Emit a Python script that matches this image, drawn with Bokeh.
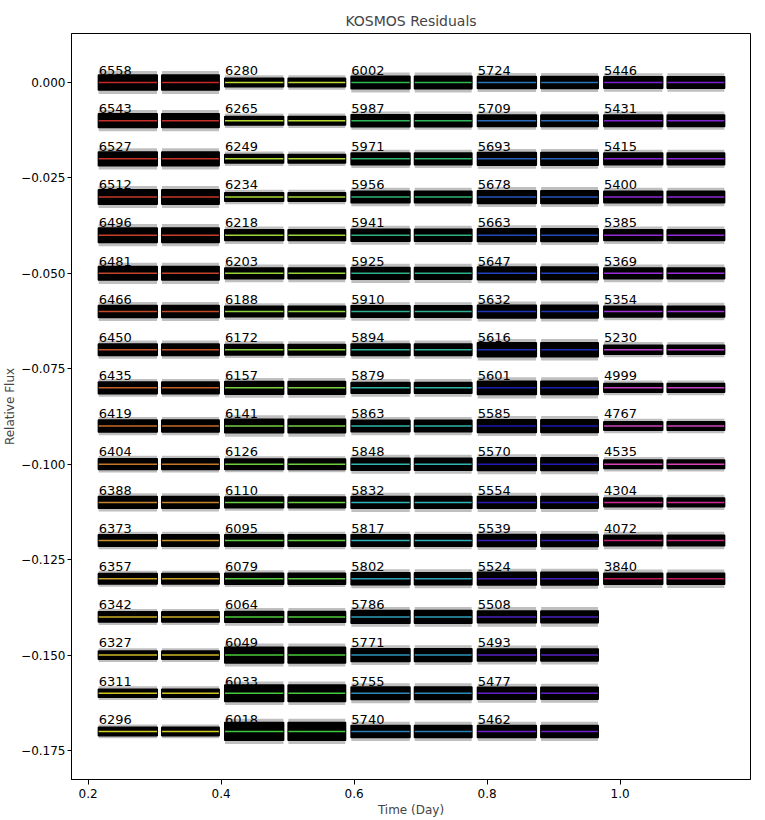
import numpy as np
from bokeh.plotting import figure
from bokeh.models import FixedTicker, CustomJSTickFormatter, PrintfTickFormatter, ColumnDataSource, Range1d
from bokeh.embed import file_html
from bokeh.resources import INLINE
from bokeh.core.properties import value

# ---------------- data ----------------
wavelengths = [
    6558, 6543, 6527, 6512, 6496, 6481, 6466, 6450, 6435, 6419, 6404, 6388, 6373, 6357, 6342, 6327, 6311, 6296,
    6280, 6265, 6249, 6234, 6218, 6203, 6188, 6172, 6157, 6141, 6126, 6110, 6095, 6079, 6064, 6049, 6033, 6018,
    6002, 5987, 5971, 5956, 5941, 5925, 5910, 5894, 5879, 5863, 5848, 5832, 5817, 5802, 5786, 5771, 5755, 5740,
    5724, 5709, 5693, 5678, 5663, 5647, 5632, 5616, 5601, 5585, 5570, 5554, 5539, 5524, 5508, 5493, 5477, 5462,
    5446, 5431, 5415, 5400, 5385, 5369, 5354, 5230, 4999, 4767, 4535, 4304, 4072, 3840,
]
# half-width of the dense body of each residual cloud (relative flux, x 1e-3)
scatter_1e3 = [
    1.9, 1.75, 1.75, 1.85, 1.85, 1.7, 1.5, 1.45, 1.45, 1.5, 1.35, 1.45, 1.45, 1.3, 1.3, 1.0, 1.0, 1.05,
    1.05, 1.05, 1.05, 1.05, 1.35, 1.35, 1.3, 1.3, 1.6, 1.7, 1.3, 1.35, 1.45, 1.35, 1.35, 2.0, 2.1, 2.25,
    1.6, 1.5, 1.5, 1.45, 1.5, 1.5, 1.45, 1.45, 1.35, 1.45, 1.5, 1.5, 1.45, 1.5, 1.6, 1.6, 1.6, 1.5,
    1.5, 1.45, 1.6, 1.6, 1.6, 1.6, 1.6, 1.75, 1.7, 1.6, 1.6, 1.5, 1.5, 1.6, 1.5, 1.5, 1.5, 1.5,
    1.45, 1.45, 1.45, 1.45, 1.35, 1.35, 1.35, 1.1, 1.05, 1.05, 1.05, 1.1, 1.3, 1.35,
]
# half-width reached by the outlying points of each cloud (relative flux, x 1e-3)
extent_1e3 = [
    3.0, 2.8, 2.8, 2.9, 2.9, 2.8, 2.5, 2.4, 2.3, 2.4, 2.2, 2.4, 2.3, 2.1, 2.1, 1.8, 1.8, 1.8,
    1.9, 1.9, 1.9, 1.9, 2.3, 2.3, 2.2, 2.2, 2.6, 2.8, 2.1, 2.2, 2.3, 2.2, 2.3, 3.0, 3.1, 3.3,
    2.6, 2.4, 2.4, 2.4, 2.5, 2.5, 2.4, 2.4, 2.3, 2.4, 2.5, 2.5, 2.3, 2.5, 2.6, 2.6, 2.6, 2.5,
    2.5, 2.4, 2.6, 2.6, 2.6, 2.6, 2.6, 2.8, 2.8, 2.6, 2.6, 2.5, 2.5, 2.6, 2.6, 2.5, 2.5, 2.5,
    2.4, 2.4, 2.4, 2.4, 2.3, 2.3, 2.3, 2.0, 1.9, 1.9, 1.9, 2.0, 2.3, 2.4,
]
rows_per_column = 18
row_step = 0.01          # flux offset between channels
column_shift = 0.19      # time offset between columns
t_start, t_gap_start, t_gap_end, t_end = 0.2158, 0.3036, 0.3111, 0.3967
label_lift = 0.0032

x_ticks = [0.2, 0.4, 0.6, 0.8, 1.0]
y_ticks = [0.0, -0.025, -0.05, -0.075, -0.1, -0.125, -0.15, -0.175]

# colour anchors (style) : wavelength -> colour
color_anchors = [
    (6558, "#c62828"), (6466, "#c44a2a"), (6420, "#c46a28"), (6357, "#c8a028"),
    (6296, "#d4d020"), (6280, "#c0dc30"), (6150, "#78d040"), (6018, "#3cc83c"),
    (6002, "#30b850"), (5925, "#2eb08a"), (5832, "#30b8b8"), (5740, "#2c80b8"),
    (5647, "#2040c0"), (5585, "#1818b0"), (5508, "#4a20c0"), (5446, "#7a20d0"),
    (5354, "#a030d8"), (5230, "#c040c8"), (4535, "#d840b8"), (4304, "#d02890"),
    (3840, "#c0185a"),
]

def wl_color(w):
    ws = np.array([a[0] for a in color_anchors], float)[::-1]
    cs = np.array([[int(a[1][i:i + 2], 16) for i in (1, 3, 5)] for a in color_anchors], float)[::-1]
    rgb = [np.interp(w, ws, cs[:, k]) for k in range(3)]
    return "#%02x%02x%02x" % tuple(int(round(c)) for c in rgb)

# ---------------- build glyph tables ----------------
core = dict(left=[], right=[], bottom=[], top=[])
halo = dict(left=[], right=[], bottom=[], top=[])
ln = dict(x0=[], x1=[], y=[], color=[])
lab = dict(x=[], y=[], text=[])
for i, (w, s, e) in enumerate(zip(wavelengths, scatter_1e3, extent_1e3)):
    col, row = divmod(i, rows_per_column)
    off = -row * row_step
    dx = col * column_shift
    c = wl_color(w)
    for a, b in ((t_start, t_gap_start), (t_gap_end, t_end)):
        for tab, hw in ((core, s * 1e-3), (halo, e * 1e-3)):
            tab["left"].append(a + dx); tab["right"].append(b + dx)
            tab["bottom"].append(off - hw); tab["top"].append(off + hw)
        ln["x0"].append(a + dx); ln["x1"].append(b + dx)
        ln["y"].append(off); ln["color"].append(c)
    lab["x"].append(t_start + dx)
    lab["y"].append(off + label_lift)
    lab["text"].append(str(w))

FONT = "DejaVu Sans"
p = figure(width=760, height=820, output_backend="svg", toolbar_location=None,
           x_range=Range1d(0.175, 1.196), y_range=Range1d(-0.1826, 0.01284),
           title="KOSMOS Residuals", min_border_left=70, min_border_right=10,
           min_border_top=33, min_border_bottom=41)
p.title.align = "center"
p.title.text_font = FONT
p.title.text_font_size = "14px"
p.title.text_font_style = "normal"
p.title.standoff = 9

p.quad(left="left", right="right", bottom="bottom", top="top", source=ColumnDataSource(halo),
       fill_color="black", fill_alpha=0.25, line_color=None)
p.quad(left="left", right="right", bottom="bottom", top="top", source=ColumnDataSource(core),
       fill_color="black", line_color="black", line_width=2, line_join="round")
p.segment(x0="x0", x1="x1", y0="y", y1="y", source=ColumnDataSource(ln),
          line_color="color", line_width=1.5)
p.text(x="x", y="y", text="text", source=ColumnDataSource(lab),
       text_font=value(FONT), text_font_size="13px", text_color="black",
       text_baseline="alphabetic", text_align="left")

p.grid.visible = False
p.outline_line_color = "black"
p.outline_line_width = 1
for ax in (p.xaxis[0], p.yaxis[0]):
    ax.major_label_text_font = FONT
    ax.major_label_text_font_size = "12px"
    ax.major_label_text_color = "black"
    ax.axis_label_text_font = FONT
    ax.axis_label_text_font_size = "12px"
    ax.axis_label_text_font_style = "normal"
    ax.minor_tick_line_color = None
    ax.major_tick_in = 0
    ax.major_tick_out = 4
    ax.major_label_standoff = 2
    ax.axis_label_standoff = 1
    ax.axis_line_color = "black"
    ax.major_tick_line_color = "black"
p.xaxis.major_tick_out = 5
p.xaxis.major_label_standoff = 4
p.xaxis.axis_label_standoff = 2

p.xaxis.ticker = FixedTicker(ticks=x_ticks)
p.xaxis.formatter = PrintfTickFormatter(format="%.1f")
p.xaxis.axis_label = "Time (Day)"
p.yaxis.ticker = FixedTicker(ticks=y_ticks)
p.yaxis.formatter = CustomJSTickFormatter(
    code="var v = Math.abs(tick) < 1e-9 ? 0 : tick; return (v < 0 ? '\u2212' : '') + Math.abs(v).toFixed(3);")
p.yaxis.axis_label = "Relative Flux"

open("out.html", "w").write(file_html(p, INLINE))
